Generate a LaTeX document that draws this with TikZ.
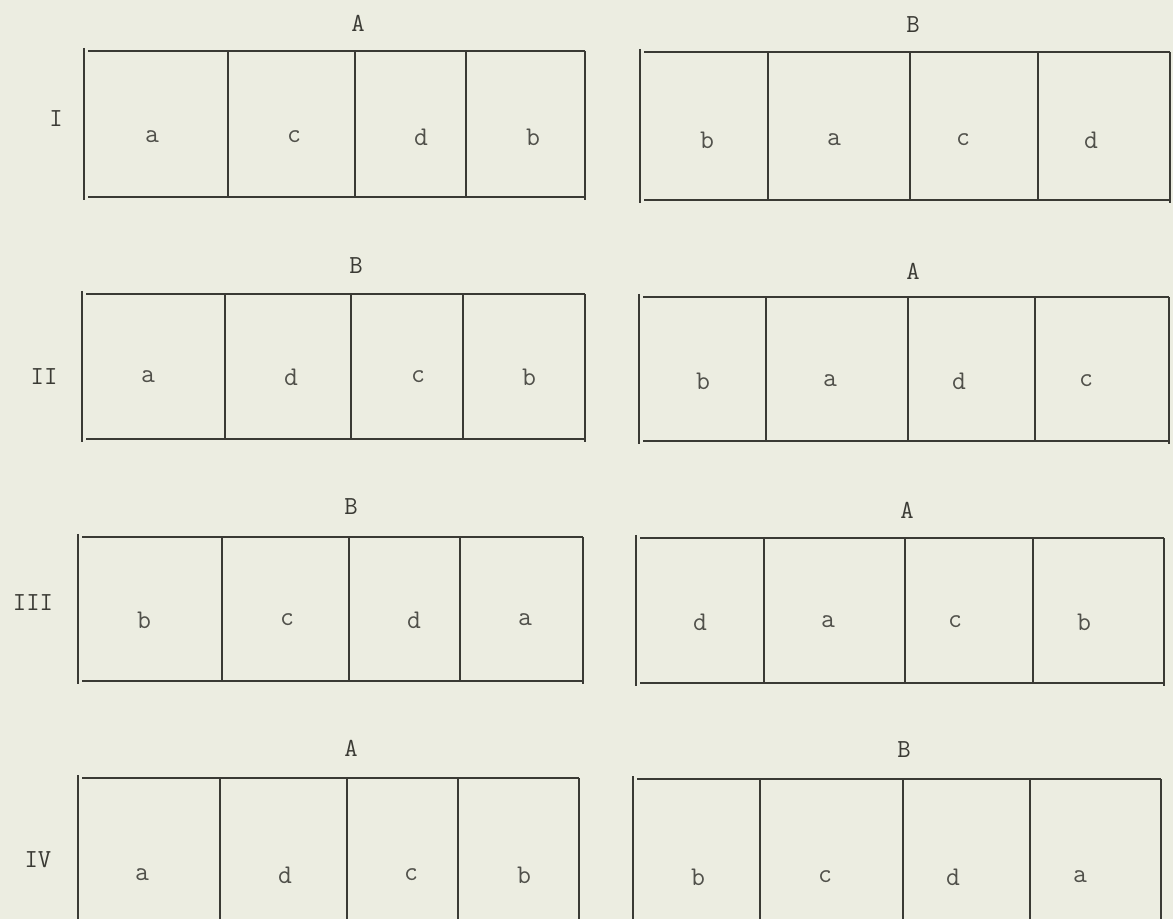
\documentclass[tikz,border=0pt]{standalone}
\definecolor{paper}{RGB}{236,237,225}
\definecolor{ink}{RGB}{58,58,52}
\definecolor{soft}{RGB}{80,80,74}
\begin{document}
\begin{tikzpicture}[x=0.5pt,y=-0.5pt,
  rule/.style={draw=ink,line width=1.3pt},
  letter/.style={font=\ttfamily\fontsize{13.5}{13.5}\selectfont,text=soft,inner sep=0pt},
  head/.style={font=\ttfamily\fontsize{13}{13}\selectfont,text=ink,inner sep=0pt}]
\fill[paper] (0,0) rectangle (1173,919);
\clip (0,0) rectangle (1173,919);
\foreach \nm/\tp/\bt/\xa/\xb/\xc/\xd/\xe/\ty/\la/\lb/\lc/\ld/\pa/\pb/\pc/\pd/\hd/\hx/\hy in {
  oneL/51/197/84/228/355/466/585/137/a/c/d/b/152/294/421/533/A/358/23,
  oneR/52/200/640/768/910/1038/1170/140/b/a/c/d/707/834/963/1091/B/913/25,
  twoL/294/439/82/225/351/463/585/377/a/d/c/b/148/291/418/529/B/356/266,
  twoR/297/441/639/766/908/1035/1169/381/b/a/d/c/703/830/959/1086/A/913/271,
  threeL/537/681/78/222/349/460/583/620/b/c/d/a/144/287/414/525/B/351/507,
  threeR/538/683/636/764/905/1033/1164/622/d/a/c/b/700/828/955/1084/A/907/510,
  fourL/778/960/78/220/347/458/579/875/a/d/c/b/142/285/411/524/A/351/748,
  fourR/779/960/633/760/903/1030/1161/877/b/c/d/a/698/825/953/1080/B/904/750}
{
  \node[head] (\nm-h) at (\hx,\hy) {\hd};
  \node[letter] (\nm-1) at (\pa,\ty) {\la};
  \node[letter] (\nm-2) at (\pb,\ty) {\lb};
  \node[letter] (\nm-3) at (\pc,\ty) {\lc};
  \node[letter] (\nm-4) at (\pd,\ty) {\ld};
  \draw[rule] (\xa,\tp-3) -- (\xa,\bt+3);
  \draw[rule] (\xa+4,\tp) -- (\xe,\tp);
  \draw[rule] (\xa+4,\bt) -- (\xe,\bt);
  \draw[rule] (\xb,\tp) -- (\xb,\bt);
  \draw[rule] (\xc,\tp) -- (\xc,\bt);
  \draw[rule] (\xd,\tp) -- (\xd,\bt);
  \draw[rule] (\xe,\tp) -- (\xe,\bt+3);
}
\node[head] (rI) at (56,119) {I};
\node[head] (rII) at (44,377) {II};
\node[head] (rIII) at (33,603) {III};
\node[head] (rIV) at (38,860) {IV};
\end{tikzpicture}
\end{document}
